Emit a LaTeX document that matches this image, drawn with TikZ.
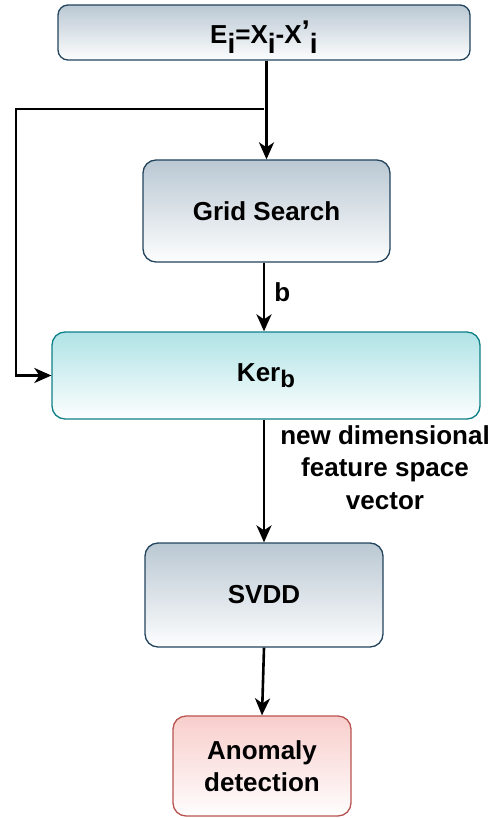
\documentclass[tikz,border=0pt]{standalone}
\usepackage{fontspec}
\setmainfont{Liberation Sans}
\usetikzlibrary{arrows.meta,positioning}
\definecolor{slate}{RGB}{186,200,211}
\definecolor{slatedark}{RGB}{35,68,93}
\definecolor{lagoon}{RGB}{176,227,230}
\definecolor{lagoondark}{RGB}{14,128,136}
\definecolor{rose}{RGB}{248,206,204}
\definecolor{rosedark}{RGB}{184,84,80}
\definecolor{ink}{RGB}{0,0,0}
% shifted glyph: #1 raise, #2 size, #3 text
\newcommand\shiftxt[3]{\raisebox{#1}{\fontsize{#2}{#2}\selectfont #3}}
\tikzset{
  >={Stealth[length=17pt,width=15pt,inset=5pt]},
  box/.style={draw=#1dark,top color=#1,bottom color=white!97!#1,line width=1.3pt,
    rounded corners=13pt,align=center,font=\fontsize{26}{32}\selectfont\bfseries,
    inner sep=0pt},
  box/.default=slate,
  flow/.style={->,line width=2.6pt,draw=ink},
  tag/.style={font=\fontsize{26}{32.5}\selectfont\bfseries,align=center,inner sep=0pt},
}
\begin{document}
\begin{tikzpicture}[x=1pt,y=-1pt]
  \useasboundingbox (0,0) rectangle (498,818);
  \node[box,rounded corners=10pt,minimum width=412pt,minimum height=55pt,
    text height=30pt,text depth=7pt] (err) at (264,32.5)
    {E\shiftxt{-10pt}{28}{i}=X\shiftxt{-10pt}{28}{i}-X\shiftxt{2pt}{30}{'}\shiftxt{-10pt}{28}{i}};
  \node[box,minimum width=247pt,minimum height=102pt] (grid) at (266.5,211) {Grid Search};
  \node[box=lagoon,minimum width=428pt,minimum height=87pt] (ker) at (266,375.5) {Ker\shiftxt{-6pt}{24}{b}};
  \node[box,minimum width=238pt,minimum height=104pt] (svdd) at (264,595) {SVDD};
  \node[box=rose,minimum width=178pt,minimum height=100pt] (anom) at (262,766) {Anomaly\\detection};
  % connectors
  \coordinate (split) at (264,109);
  \coordinate (bend) at (16,109);
  \draw[flow] (err.south -| grid.north) -- (grid.north);
  \draw[flow] (split) -- (bend) |- (ker.west);
  \draw[flow] (grid.south -| 264,0) -- node[tag,anchor=west,xshift=9pt,pos=0.43] (blab) {b} (ker.north -| 264,0);
  \draw[flow] (ker.south -| 264,0) -- (svdd.north -| 264,0);
  \draw[flow] (svdd.south) -- (anom.north);
  \node[tag,anchor=north] (vec) at (385,425) {new dimensional\\feature space\\vector};
\end{tikzpicture}
\end{document}
